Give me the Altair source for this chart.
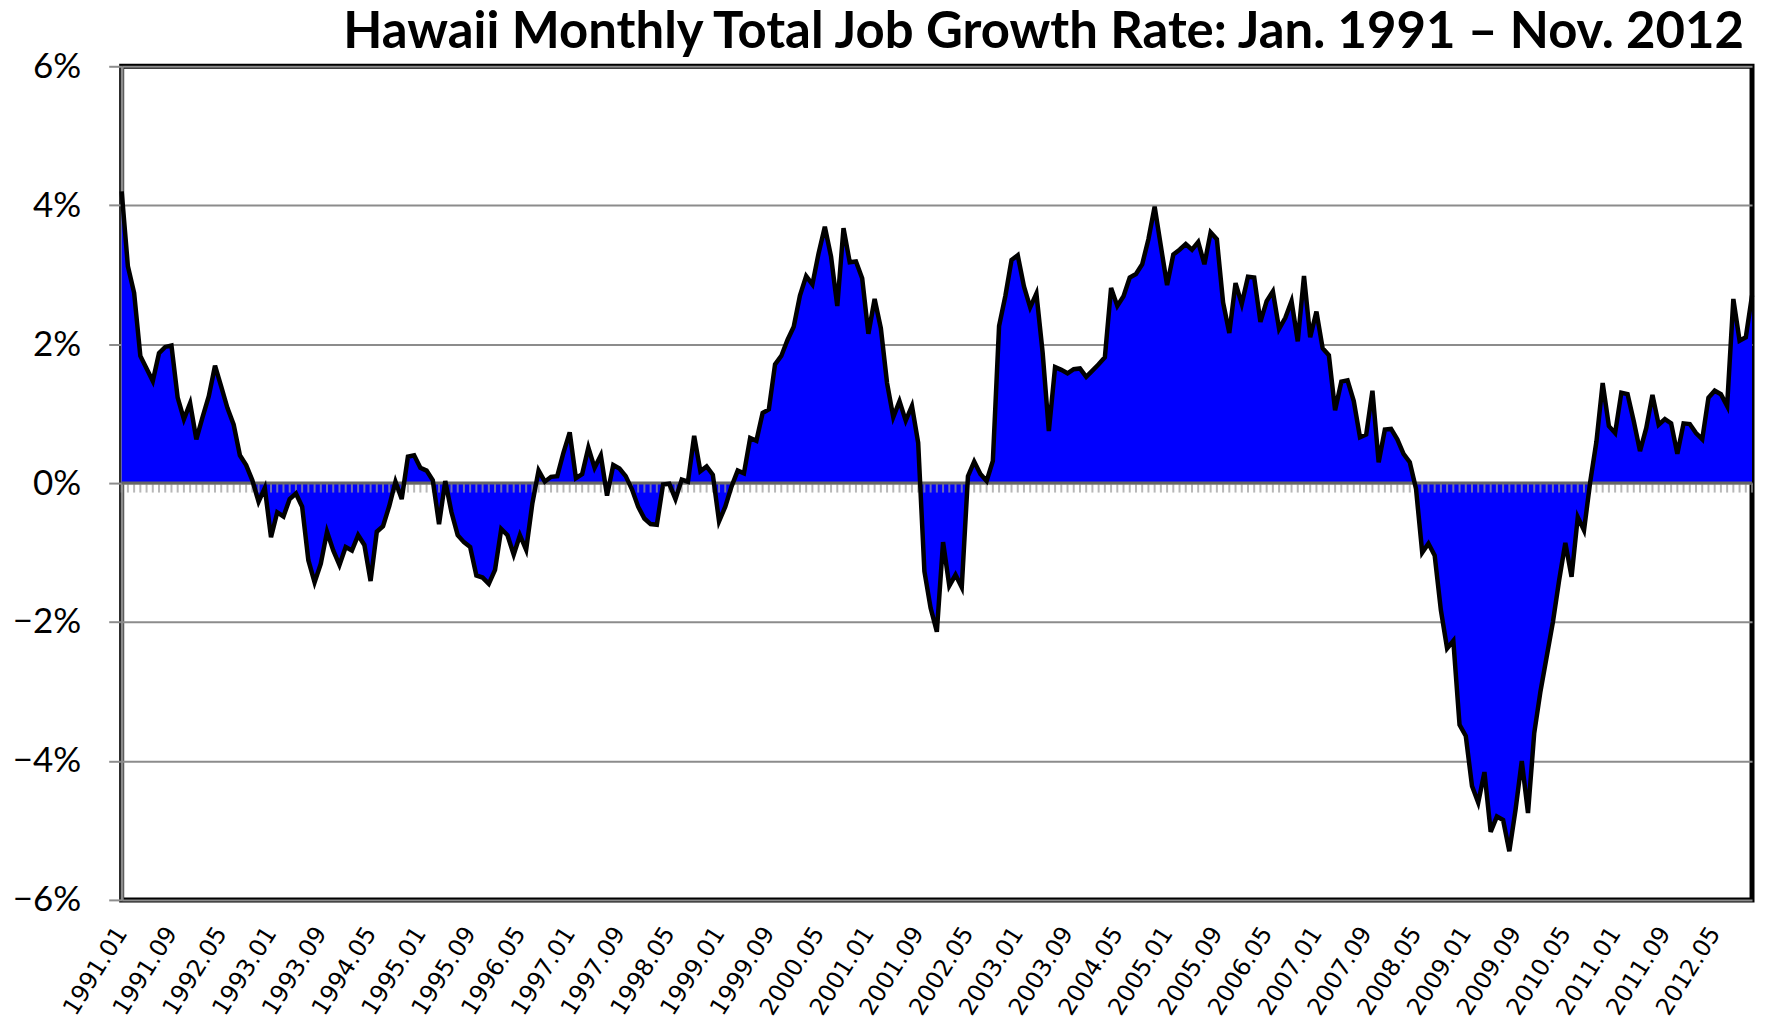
import altair as alt
import pandas as pd

# Monthly total job growth rate (%), Hawaii
rate_1991 = [4.20, 3.12, 2.74, 1.83, 1.65, 1.47, 1.87, 1.96, 1.98, 1.23, 0.92, 1.15]
rate_1992 = [0.63, 0.95, 1.25, 1.69, 1.39, 1.08, 0.84, 0.40, 0.26, 0.04, -0.27, -0.07]
rate_1993 = [-0.78, -0.42, -0.48, -0.23, -0.15, -0.34, -1.11, -1.43, -1.16, -0.70, -0.97, -1.18]
rate_1994 = [-0.92, -0.97, -0.75, -0.89, -1.41, -0.70, -0.62, -0.33, 0.02, -0.23, 0.38, 0.40]
rate_1995 = [0.22, 0.18, 0.04, -0.59, 0.03, -0.42, -0.75, -0.85, -0.92, -1.33, -1.36, -1.45]
rate_1996 = [-1.25, -0.66, -0.75, -1.03, -0.75, -0.96, -0.29, 0.18, 0.02, 0.09, 0.10, 0.44]
rate_1997 = [0.73, 0.07, 0.13, 0.51, 0.22, 0.40, -0.18, 0.26, 0.21, 0.10, -0.09, -0.34]
rate_1998 = [-0.51, -0.59, -0.60, -0.02, -0.01, -0.23, 0.05, 0.02, 0.68, 0.17, 0.24, 0.12]
rate_1999 = [-0.55, -0.34, -0.05, 0.18, 0.14, 0.65, 0.61, 1.01, 1.06, 1.71, 1.83, 2.06]
rate_2000 = [2.25, 2.70, 2.98, 2.86, 3.31, 3.69, 3.26, 2.55, 3.67, 3.18, 3.19, 2.95]
rate_2001 = [2.15, 2.65, 2.23, 1.44, 0.95, 1.18, 0.90, 1.11, 0.58, -1.27, -1.80, -2.14]
rate_2002 = [-0.85, -1.48, -1.32, -1.50, 0.10, 0.31, 0.13, 0.03, 0.32, 2.26, 2.69, 3.21]
rate_2003 = [3.28, 2.83, 2.53, 2.73, 1.88, 0.75, 1.67, 1.63, 1.58, 1.64, 1.65, 1.53]
rate_2004 = [1.62, 1.71, 1.81, 2.81, 2.55, 2.69, 2.96, 3.01, 3.15, 3.51, 3.98, 3.41]
rate_2005 = [2.85, 3.29, 3.36, 3.44, 3.36, 3.47, 3.15, 3.61, 3.51, 2.60, 2.16, 2.88]
rate_2006 = [2.58, 2.97, 2.96, 2.32, 2.62, 2.76, 2.22, 2.38, 2.62, 2.04, 2.98, 2.10]
rate_2007 = [2.47, 1.94, 1.84, 1.05, 1.46, 1.48, 1.18, 0.66, 0.70, 1.33, 0.30, 0.77]
rate_2008 = [0.78, 0.63, 0.42, 0.30, -0.08, -1.00, -0.87, -1.04, -1.83, -2.38, -2.27, -3.48]
rate_2009 = [-3.64, -4.36, -4.60, -4.16, -5.02, -4.80, -4.85, -5.30, -4.70, -4.00, -4.75, -3.60]
rate_2010 = [-3.00, -2.50, -2.00, -1.40, -0.86, -1.35, -0.49, -0.68, 0.02, 0.60, 1.44, 0.82]
rate_2011 = [0.72, 1.30, 1.28, 0.89, 0.46, 0.79, 1.27, 0.84, 0.92, 0.86, 0.42, 0.86]
rate_2012 = [0.85, 0.72, 0.63, 1.23, 1.33, 1.28, 1.11, 2.65, 2.05, 2.10, 2.70]

years = list(range(1991, 2013))
yearly = [rate_1991, rate_1992, rate_1993, rate_1994, rate_1995, rate_1996,
          rate_1997, rate_1998, rate_1999, rate_2000, rate_2001, rate_2002,
          rate_2003, rate_2004, rate_2005, rate_2006, rate_2007, rate_2008,
          rate_2009, rate_2010, rate_2011, rate_2012]

tick_labels = ['1991.01', '1991.09', '1992.05', '1993.01', '1993.09', '1994.05',
               '1995.01', '1995.09', '1996.05', '1997.01', '1997.09', '1998.05',
               '1999.01', '1999.09', '2000.05', '2001.01', '2001.09', '2002.05',
               '2003.01', '2003.09', '2004.05', '2005.01', '2005.09', '2006.05',
               '2007.01', '2007.09', '2008.05', '2009.01', '2009.09', '2010.05',
               '2011.01', '2011.09', '2012.05']
y_ticks = [-6, -4, -2, 0, 2, 4, 6]

months, rates = [], []
for yr, vals in zip(years, yearly):
    for i, v in enumerate(vals):
        months.append(f"{yr}.{i + 1:02d}")
        rates.append(v)

df = pd.DataFrame({"month": months, "rate": rates, "zero": [0.0] * len(months)})

W, H = 1635, 836

x_enc = alt.X("month:N", sort=months,
              scale=alt.Scale(type="point", padding=0),
              axis=alt.Axis(values=tick_labels, labelAngle=302, labelAlign="right",
                            labelBaseline="middle", labelFont="DejaVu Sans",
                            labelFontSize=24, labelColor="black", labelPadding=29,
                            ticks=False, domain=False, grid=False, title=None,
                            labelOverlap=False))
y_scale = alt.Scale(domain=[-6, 6], nice=False, zero=False)
y_axis = alt.Axis(values=y_ticks, title=None, grid=True, gridColor="#8c8c8c",
                  gridWidth=2, domainColor="#8c8c8c", domainWidth=3,
                  tickColor="#8c8c8c", tickWidth=2, tickSize=13,
                  labelFont="Lato", labelFontSize=35, labelColor="black",
                  labelPadding=28,
                  labelExpr="(datum.value < 0 ? '\u2212' : '') + abs(datum.value) + '%'")

base = alt.Chart(df)

area = base.mark_area(color="#0000FF", opacity=1).encode(
    x=x_enc,
    y=alt.Y("rate:Q", scale=y_scale, axis=y_axis, stack=None),
)

zero_line = base.mark_rule(color="#666666", strokeWidth=3).encode(
    y=alt.Y("zero:Q", scale=y_scale)
).transform_filter(alt.datum.month == months[0])

month_ticks = base.mark_tick(orient="vertical", size=9, thickness=2,
                             color="#9a9a9a", yOffset=5).encode(
    x=alt.X("month:N", sort=months),
    y=alt.Y("zero:Q", scale=y_scale),
)

line = base.mark_line(color="black", strokeWidth=4.5).encode(
    x=alt.X("month:N", sort=months),
    y=alt.Y("rate:Q", scale=y_scale),
)

chart = alt.layer(area, month_ticks, zero_line, line).properties(
    width=W, height=H,
    background="white",
    autosize=alt.AutoSizeParams(type="none"),
    padding={"left": 114, "top": 57, "right": 6, "bottom": 121},
    title=alt.TitleParams(
        "Hawaii Monthly Total Job Growth Rate: Jan. 1991 \u2013 Nov. 2012",
        anchor="end", frame="group", font="Lato", fontSize=51,
        fontWeight="bold", color="black",
        dx=-8, dy=24, offset=14),
).configure_view(stroke="black", strokeWidth=5)

chart.save("out.html", embed_options={"renderer": "svg", "actions": False})
